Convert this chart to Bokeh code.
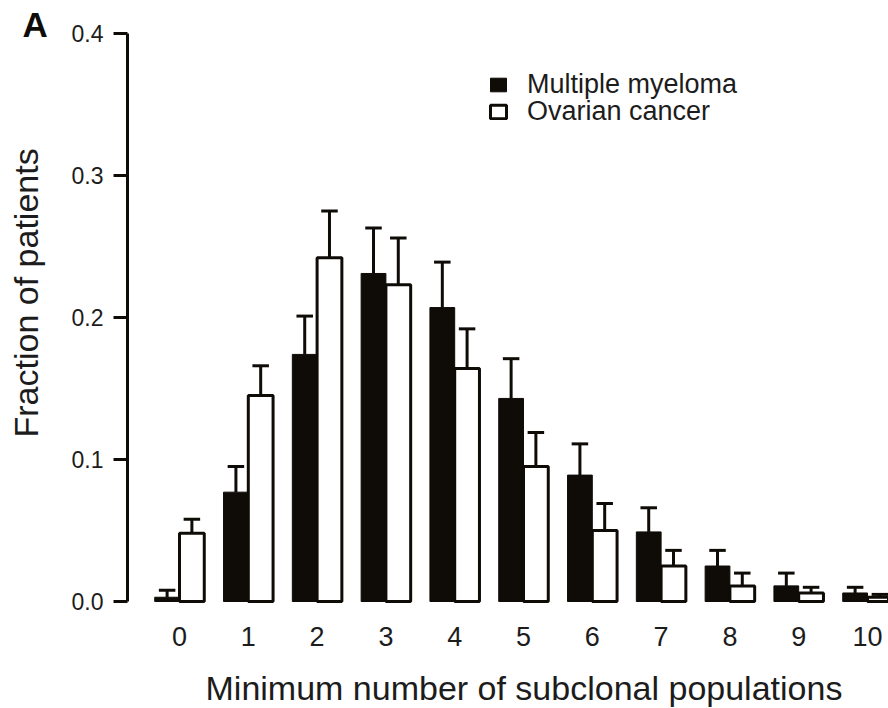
import math
from bokeh.plotting import figure
from bokeh.models import (Range1d, FixedTicker, PrintfTickFormatter, Legend,
                          LegendItem, Label, ColumnDataSource)
from bokeh.embed import file_html
from bokeh.resources import INLINE

# Minimum number of subclonal populations per patient
populations = [0, 1, 2, 3, 4, 5, 6, 7, 8, 9, 10]

# Fraction of patients (bar heights) and upper error for each cohort
myeloma = [0.003, 0.077, 0.174, 0.231, 0.207, 0.143, 0.089, 0.049, 0.025, 0.011, 0.006]
myeloma_err = [0.005, 0.018, 0.027, 0.032, 0.032, 0.028, 0.022, 0.017, 0.011, 0.009, 0.004]
ovarian = [0.048, 0.145, 0.242, 0.223, 0.164, 0.095, 0.050, 0.025, 0.011, 0.006, 0.003]
ovarian_err = [0.010, 0.021, 0.033, 0.033, 0.028, 0.024, 0.019, 0.011, 0.009, 0.004, 0.002]

y_ticks = [0.0, 0.1, 0.2, 0.3, 0.4]

W, H = 888, 708
INK = "#0f0c08"
TEXT = "#1c1c1c"
FONT = "Liberation Sans"

BAR_W = 0.36
SHIFT = 0.18
CAP = 0.12

# the plotting region fills the whole canvas; axes sit at fixed locations
X_PX = 68.8          # pixels per category
Y_PX = 1420.0        # pixels per unit fraction
X0_PX, Y0_PX = 179.0, 601.0   # canvas position of category 0 / fraction 0
x_start = -X0_PX / X_PX
x_end = (W - X0_PX) / X_PX
y_start = -(H - Y0_PX) / Y_PX
y_end = Y0_PX / Y_PX
y_axis_at = (127.0 - X0_PX) / X_PX


def cohort_source(values, errors, shift):
    xs = [c + shift for c in populations]
    tops = [v + e for v, e in zip(values, errors)]
    return ColumnDataSource(dict(
        x=xs, top=values, err_top=tops,
        cap_l=[x - CAP for x in xs], cap_r=[x + CAP for x in xs],
    ))


mm_src = cohort_source(myeloma, myeloma_err, -SHIFT)
oc_src = cohort_source(ovarian, ovarian_err, SHIFT)

p = figure(width=W, height=H, output_backend="svg", toolbar_location=None,
           x_range=Range1d(x_start, x_end), y_range=Range1d(y_start, y_end),
           min_border=0)
p.outline_line_color = None
p.xgrid.visible = False
p.ygrid.visible = False
p.background_fill_color = "white"
p.border_fill_color = "white"

# error bars (upper half only)
for src in (mm_src, oc_src):
    p.segment(x0="x", y0="top", x1="x", y1="err_top", source=src,
              line_color=INK, line_width=3)
    p.segment(x0="cap_l", y0="err_top", x1="cap_r", y1="err_top", source=src,
              line_color=INK, line_width=3)

oc_bars = p.vbar(x="x", top="top", bottom=0, width=BAR_W, source=oc_src,
                 fill_color="white", line_color=INK, line_width=3)
mm_bars = p.vbar(x="x", top="top", bottom=0, width=BAR_W, source=mm_src,
                 fill_color=INK, line_color=INK, line_width=1)

# y axis
ya = p.yaxis[0]
ya.fixed_location = y_axis_at
ya.bounds = (0, 0.4)
ya.ticker = FixedTicker(ticks=y_ticks)
ya.formatter = PrintfTickFormatter(format="%.1f")
ya.axis_line_width = 3
ya.axis_line_color = INK
ya.major_tick_line_width = 3
ya.major_tick_line_color = INK
ya.major_tick_out = 14
ya.major_tick_in = 0
ya.minor_tick_line_color = None
ya.major_label_text_font = FONT
ya.major_label_text_font_size = "23px"
ya.major_label_text_color = TEXT
ya.major_label_standoff = 10

# x axis: labels only
xa = p.xaxis[0]
xa.fixed_location = 0
xa.ticker = FixedTicker(ticks=populations)
xa.axis_line_color = None
xa.major_tick_line_color = None
xa.minor_tick_line_color = None
xa.major_tick_out = 0
xa.major_tick_in = 0
xa.major_label_text_font = FONT
xa.major_label_text_font_size = "27px"
xa.major_label_text_color = TEXT
xa.major_label_standoff = 25

# axis titles and panel letter (screen units from the bottom-left corner)
p.add_layout(Label(x=205, y=21, x_units="screen", y_units="screen",
                   text="Minimum number of subclonal populations",
                   text_font=FONT, text_font_size="34px", text_color=TEXT,
                   text_baseline="alphabetic", text_align="left"))
p.add_layout(Label(x=25, y=H - 437, x_units="screen", y_units="screen",
                   text="Fraction of patients", angle=math.pi / 2,
                   text_font=FONT, text_font_size="34px", text_color=TEXT,
                   text_baseline="alphabetic", text_align="left"))
p.add_layout(Label(x=22, y=684, x_units="screen", y_units="screen", text="A",
                   text_font=FONT, text_font_size="35px", text_font_style="bold",
                   text_color=INK, text_baseline="alphabetic"))


def legend_entry(label, renderer, y):
    return Legend(items=[LegendItem(label=label, renderers=[renderer])],
                  location=(488, y), orientation="vertical",
                  glyph_width=20, glyph_height=17, label_height=17,
                  label_standoff=19, spacing=0, padding=0, margin=0,
                  label_text_font=FONT, label_text_font_size="27px",
                  label_text_color=TEXT,
                  border_line_color=None, background_fill_alpha=0)


p.add_layout(legend_entry("Multiple myeloma", mm_bars, 607.6), "center")
p.add_layout(legend_entry("Ovarian cancer", oc_bars, 580.6), "center")

open("out.html", "w").write(file_html(p, INLINE))
